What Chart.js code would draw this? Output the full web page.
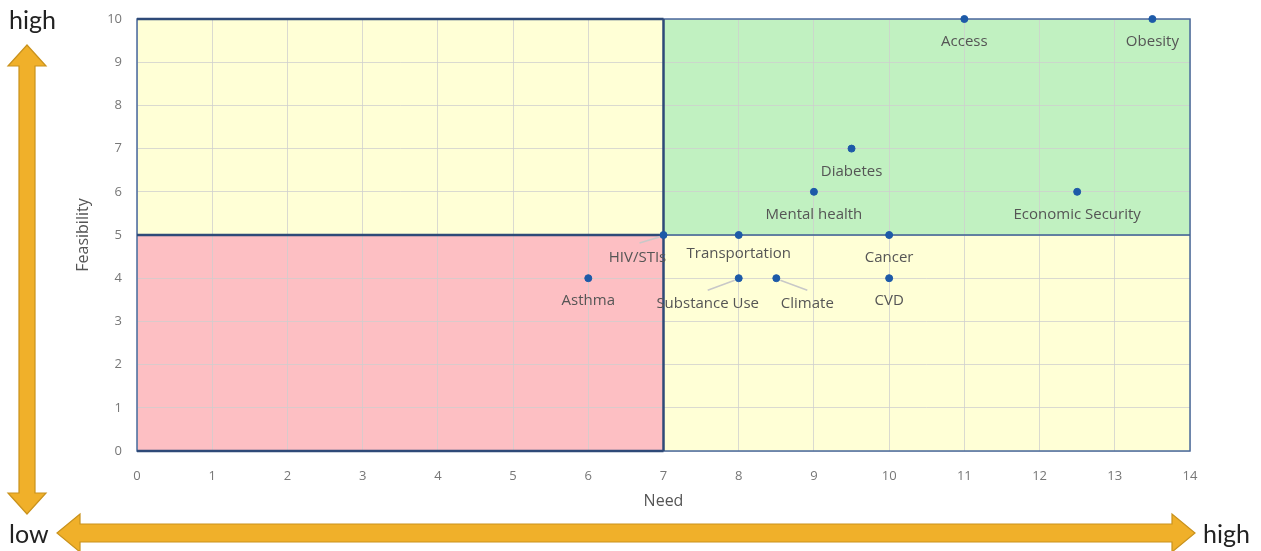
<!DOCTYPE html>
<html>
<head>
<meta charset="utf-8">
<script src="https://cdn.jsdelivr.net/npm/chart.js@4"></script>
<style>
  html, body { margin: 0; padding: 0; background: #fff; }
  #wrap { width: 1261px; height: 551px; position: relative; }
</style>
</head>
<body>
<div id="wrap"><canvas id="matrix"></canvas></div>
<script>
// Priorities: need (x) vs feasibility (y)
const issues = ['Access', 'Obesity', 'Diabetes', 'Mental health', 'Economic Security',
  'HIV/STIs', 'Transportation', 'Cancer', 'Asthma', 'Substance Use', 'Climate', 'CVD'];
const need = [11, 13.5, 9.5, 9, 12.5, 7, 8, 10, 6, 8, 8.5, 10];
const feasibility = [10, 10, 7, 6, 6, 5, 5, 5, 4, 4, 4, 4];
// where each label sits relative to its point
const labelSide = ['below', 'below', 'below', 'below', 'below',
  'leftLine', 'belowNear', 'below', 'below', 'leftLine', 'rightLine', 'below'];
const xTicks = [0, 1, 2, 3, 4, 5, 6, 7, 8, 9, 10, 11, 12, 13, 14];
const yTicks = [0, 1, 2, 3, 4, 5, 6, 7, 8, 9, 10];

const FONT = '"Open Sans", Lato, sans-serif';

// Quadrant fills and borders behind the grid
const quadrants = {
  id: 'quadrants',
  beforeDraw(chart) {
    const { ctx, scales: { x, y } } = chart;
    const x0 = x.getPixelForValue(0), x7 = x.getPixelForValue(7), x14 = x.getPixelForValue(14);
    const y0 = y.getPixelForValue(0), y5 = y.getPixelForValue(5), y10 = y.getPixelForValue(10);
    ctx.save();
    ctx.fillStyle = '#ffffd6';
    ctx.fillRect(x0, y10, x14 - x0, y0 - y10);
    ctx.fillStyle = '#c1f1c1';
    ctx.fillRect(x7, y10, x14 - x7, y5 - y10);
    ctx.fillStyle = '#fdbfc3';
    ctx.fillRect(x0, y5, x7 - x0, y0 - y5);
    ctx.restore();
  },
  beforeDatasetsDraw(chart) {
    const { ctx, scales: { x, y } } = chart;
    const x0 = x.getPixelForValue(0), x7 = x.getPixelForValue(7), x14 = x.getPixelForValue(14);
    const y0 = y.getPixelForValue(0), y5 = y.getPixelForValue(5), y10 = y.getPixelForValue(10);
    ctx.save();
    ctx.strokeStyle = '#4a6a9c';
    ctx.lineWidth = 1.5;
    ctx.strokeRect(x0, y10, x14 - x0, y0 - y10);
    ctx.strokeStyle = '#2e4a78';
    ctx.lineWidth = 2.5;
    ctx.beginPath();
    ctx.moveTo(x0, y10); ctx.lineTo(x7, y10);
    ctx.moveTo(x0, y5); ctx.lineTo(x7, y5);
    ctx.moveTo(x0, y0); ctx.lineTo(x7, y0);
    ctx.moveTo(x7, y10); ctx.lineTo(x7, y0);
    ctx.stroke();
    ctx.lineWidth = 1.5;
    ctx.strokeStyle = '#3d5e93';
    ctx.beginPath();
    ctx.moveTo(x7, y5); ctx.lineTo(x14, y5);
    ctx.stroke();
    ctx.restore();
  }
};

// Point labels, some with a short leader line
const pointLabels = {
  id: 'pointLabels',
  afterDatasetsDraw(chart) {
    const { ctx } = chart;
    const meta = chart.getDatasetMeta(0);
    ctx.save();
    ctx.font = '15px ' + FONT;
    ctx.fillStyle = '#555';
    ctx.textBaseline = 'middle';
    ctx.textAlign = 'center';
    meta.data.forEach((pt, i) => {
      const side = labelSide[i];
      let lx = pt.x, ly = pt.y + 23;
      if (side === 'belowNear') ly = pt.y + 19;
      if (side === 'leftLine' || side === 'rightLine') {
        const dir = side === 'leftLine' ? -1 : 1;
        lx = pt.x + dir * (i === 5 ? 26 : 31);
        ly = pt.y + (i === 5 ? 23 : 26);
        ctx.strokeStyle = '#c8c8c8';
        ctx.lineWidth = 1.5;
        ctx.beginPath();
        ctx.moveTo(pt.x + dir * 4, pt.y + 2);
        ctx.lineTo(lx + (i === 5 ? 2 : 0), ly - (i === 5 ? 15 : 14));
        ctx.stroke();
      }
      ctx.fillText(issues[i], lx, ly);
    });
    ctx.restore();
  }
};

// Orange high/low arrows around the plot
function arrow(ctx, x1, y1, x2, y2, shaft, head, headLen) {
  const ang = Math.atan2(y2 - y1, x2 - x1);
  const len = Math.hypot(x2 - x1, y2 - y1);
  ctx.save();
  ctx.translate(x1, y1);
  ctx.rotate(ang);
  ctx.beginPath();
  ctx.moveTo(0, 0);
  ctx.lineTo(headLen, -head / 2);
  ctx.lineTo(headLen, -shaft / 2);
  ctx.lineTo(len - headLen, -shaft / 2);
  ctx.lineTo(len - headLen, -head / 2);
  ctx.lineTo(len, 0);
  ctx.lineTo(len - headLen, head / 2);
  ctx.lineTo(len - headLen, shaft / 2);
  ctx.lineTo(headLen, shaft / 2);
  ctx.lineTo(headLen, head / 2);
  ctx.closePath();
  ctx.fillStyle = '#f0b02a';
  ctx.fill();
  ctx.strokeStyle = '#c9921c';
  ctx.lineWidth = 1.2;
  ctx.stroke();
  ctx.restore();
}

const arrows = {
  id: 'arrows',
  afterDraw(chart) {
    const { ctx } = chart;
    arrow(ctx, 27, 45, 27, 514, 16, 38, 21);
    arrow(ctx, 57, 533, 1195, 533, 18, 38, 23);
    ctx.save();
    ctx.font = '25px Lato, sans-serif';
    ctx.fillStyle = '#222';
    ctx.textBaseline = 'middle';
    ctx.textAlign = 'left';
    ctx.fillText('high', 9, 21);
    ctx.fillText('low', 9, 535);
    ctx.fillText('high', 1203, 535);
    ctx.restore();
  }
};

new Chart(document.getElementById('matrix'), {
  type: 'scatter',
  data: {
    datasets: [{
      label: 'Priorities',
      data: need.map((v, i) => ({ x: v, y: feasibility[i] })),
      backgroundColor: '#1d5aa8',
      borderColor: '#1d5aa8',
      pointRadius: 3.5,
      pointHoverRadius: 3.5,
      clip: false
    }]
  },
  options: {
    responsive: true,
    maintainAspectRatio: false,
    animation: false,
    layout: { padding: { left: 70, right: 71, top: 19, bottom: 36 } },
    plugins: {
      legend: { display: false },
      tooltip: { enabled: false }
    },
    scales: {
      x: {
        type: 'linear',
        min: xTicks[0],
        max: xTicks[xTicks.length - 1],
        afterFit: s => { s.height = 64; s.paddingLeft = 0; s.paddingRight = 0; },
        afterBuildTicks: s => { s.ticks = xTicks.map(v => ({ value: v })); },
        grid: { color: 'rgba(205,205,205,0.75)', drawTicks: false },
        border: { display: false },
        ticks: { padding: 17, color: '#777', font: { family: FONT, size: 13 } },
        title: { display: true, text: 'Need', color: '#555', padding: { top: 6 }, font: { family: FONT, size: 16 } }
      },
      y: {
        type: 'linear',
        min: yTicks[0],
        max: yTicks[yTicks.length - 1],
        afterFit: s => { s.width = 67; s.paddingTop = 0; s.paddingBottom = 0; },
        afterBuildTicks: s => { s.ticks = yTicks.map(v => ({ value: v })); },
        grid: { color: 'rgba(205,205,205,0.75)', drawTicks: false },
        border: { display: false },
        ticks: { padding: 15, color: '#777', font: { family: FONT, size: 13 } },
        title: { display: true, text: 'Feasibility', color: '#555', padding: { bottom: 4 }, font: { family: FONT, size: 16 } }
      }
    }
  },
  plugins: [quadrants, pointLabels, arrows]
});
</script>
</body>
</html>
